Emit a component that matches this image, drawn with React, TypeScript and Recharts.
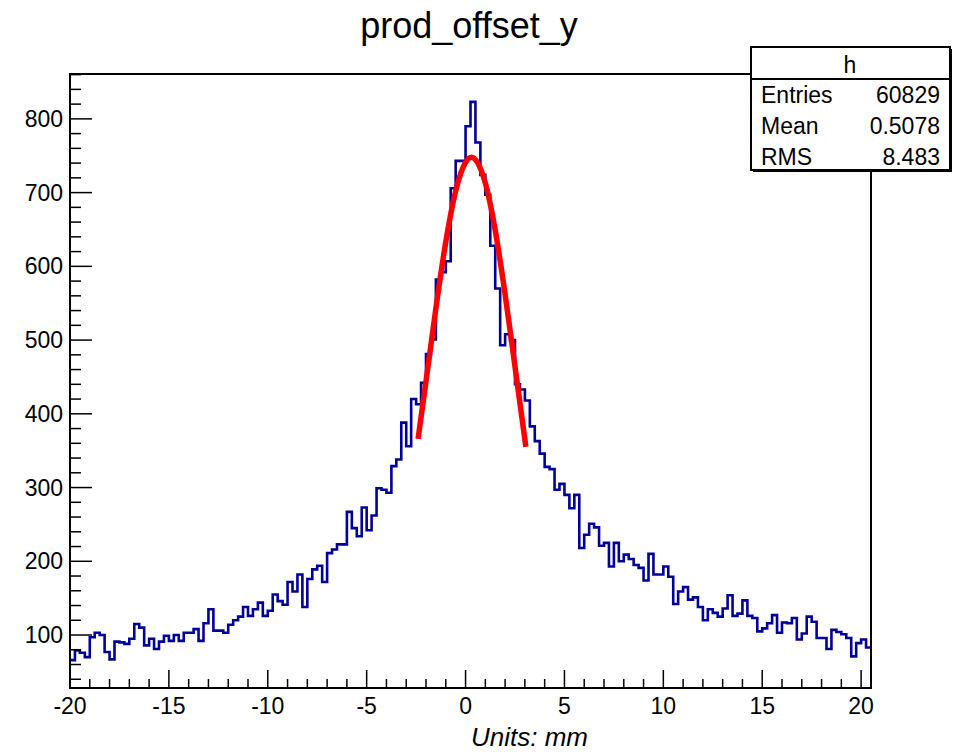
import { ComposedChart, Line, XAxis, YAxis } from "recharts";

// histogram "h": 162 bins of 0.25 mm from -20 to 20.5
const binStart = -20;
const binWidth = 0.25;
const counts = [
  66, 79, 76, 70, 97, 103, 100, 77, 67, 91,
  90, 88, 95, 115, 110, 86, 95, 81, 91, 99,
  92, 100, 92, 103, 103, 108, 92, 116, 135, 106,
  106, 103, 114, 120, 125, 138, 126, 135, 144, 126,
  133, 155, 146, 141, 172, 159, 182, 138, 176, 189,
  194, 172, 211, 216, 223, 223, 267, 245, 234, 273,
  242, 262, 299, 297, 293, 329, 338, 388, 356, 420,
  413, 442, 481, 501, 582, 592, 607, 706, 743, 743,
  790, 823, 768, 724, 697, 628, 570, 493, 508, 500,
  440, 433, 418, 383, 363, 346, 328, 325, 297, 305,
  290, 272, 290, 218, 236, 251, 246, 221, 225, 193,
  225, 200, 209, 203, 195, 191, 174, 210, 182, 182,
  193, 179, 142, 159, 165, 148, 151, 138, 120, 135,
  130, 125, 136, 154, 126, 129, 147, 126, 123, 105,
  109, 116, 127, 103, 117, 116, 123, 94, 102, 125,
  118, 96, 96, 81, 107, 104, 101, 96, 71, 89,
  94, 83,
];

// gaussian fit curve
const fitX = [-2.4, -2, -1.5, -1, -0.5, 0, 0.3, 0.6, 1, 1.5, 2, 2.5, 3.05];
const fitY = [366, 444, 543, 633, 702, 741, 748, 741, 713, 649, 562, 464, 355];

const xTicks = [
  -20, -19, -18, -17, -16, -15, -14, -13, -12, -11, -10, -9, -8, -7, -6, -5, -4, -3, -2, -1,
  0, 1, 2, 3, 4, 5, 6, 7, 8, 9, 10, 11, 12, 13, 14, 15, 16, 17, 18, 19, 20,
];
const xLabels = [-20, -15, -10, -5, 0, 5, 10, 15, 20];
const yTicks = [
  40, 60, 80, 100, 120, 140, 160, 180, 200, 220, 240, 260, 280, 300, 320, 340, 360, 380, 400,
  420, 440, 460, 480, 500, 520, 540, 560, 580, 600, 620, 640, 660, 680, 700, 720, 740, 760,
  780, 800, 820, 840, 860,
];
const yLabels = [100, 200, 300, 400, 500, 600, 700, 800];

const statNames = ["Entries", "Mean", "RMS"];
const statValues = ["60829", "0.5078", "8.483"];

const FONT = "'Liberation Sans', Arial, Helvetica, sans-serif";

const histData = counts
  .map((c, i) => ({ x: binStart + i * binWidth, y: c }))
  .concat([{ x: binStart + counts.length * binWidth, y: counts[counts.length - 1] }]);
const fitData = fitX.map((x, i) => ({ x, y: fitY[i] }));

const XTick = (props: any) => {
  const { x, y, payload } = props;
  const major = xLabels.includes(payload.value);
  return (
    <g>
      <line x1={x} x2={x} y1={y} y2={y - (major ? 18 : 9)} stroke="#000" strokeWidth={1.5} />
      {major && (
        <text x={x} y={y + 26} textAnchor="middle" fontSize={23} fontFamily={FONT} fill="#000">
          {payload.value}
        </text>
      )}
    </g>
  );
};

const YTick = (props: any) => {
  const { x, y, payload } = props;
  const major = yLabels.includes(payload.value);
  return (
    <g>
      <line x1={x} x2={x + (major ? 22 : 11)} y1={y} y2={y} stroke="#000" strokeWidth={1.5} />
      {major && (
        <text x={x - 7} y={y + 8} textAnchor="end" fontSize={23} fontFamily={FONT} fill="#000">
          {payload.value}
        </text>
      )}
    </g>
  );
};

const App = () => {
  return (
    <div style={{ position: "absolute", left: 0, top: 0, width: 957, height: 753, background: "#fff" }}>
      <ComposedChart width={957} height={753} margin={{ top: 74, right: 86, bottom: 0, left: 10 }}>
        <XAxis
          type="number"
          dataKey="x"
          domain={[-20, 20.5]}
          allowDataOverflow
          ticks={xTicks}
          interval={0}
          height={65}
          axisLine={false}
          tickLine={false}
          tickSize={0}
          tickMargin={0}
          tick={<XTick />}
        />
        <YAxis
          type="number"
          dataKey="y"
          domain={[28.15, 860.85]}
          allowDataOverflow
          ticks={yTicks}
          interval={0}
          width={60}
          axisLine={false}
          tickLine={false}
          tickSize={0}
          tickMargin={0}
          tick={<YTick />}
        />
        <Line
          data={histData}
          dataKey="y"
          type="stepAfter"
          stroke="#000099"
          strokeWidth={2.6}
          dot={false}
          isAnimationActive={false}
        />
        <Line
          data={fitData}
          dataKey="y"
          type="monotone"
          stroke="#ff0000"
          strokeWidth={5.5}
          dot={false}
          isAnimationActive={false}
        />
      </ComposedChart>
      <svg
        width={957}
        height={753}
        style={{ position: "absolute", left: 0, top: 0, pointerEvents: "none" }}
        fontFamily={FONT}
      >
        <rect x={70} y={74} width={801} height={614} fill="none" stroke="#000" strokeWidth={2} />
        <text x={469} y={38} textAnchor="middle" fontSize={36} fill="#000">
          prod_offset_y
        </text>
        <text x={471} y={746} fontSize={26} fontStyle="italic" fill="#000">
          Units: mm
        </text>
        <rect x={753} y={49} width={199} height={123} fill="#000" />
        <rect x={751} y={47} width={199} height={123} fill="#fff" stroke="#000" strokeWidth={2} />
        <line x1={751} x2={950} y1={79} y2={79} stroke="#000" strokeWidth={2} />
        <text x={850} y={73} textAnchor="middle" fontSize={23} fill="#000">
          h
        </text>
        {statNames.map((name, i) => (
          <g key={name}>
            <text x={761} y={103 + i * 31} fontSize={23} fill="#000">
              {name}
            </text>
            <text x={940} y={103 + i * 31} textAnchor="end" fontSize={23} fill="#000">
              {statValues[i]}
            </text>
          </g>
        ))}
      </svg>
    </div>
  );
};

export default App;
